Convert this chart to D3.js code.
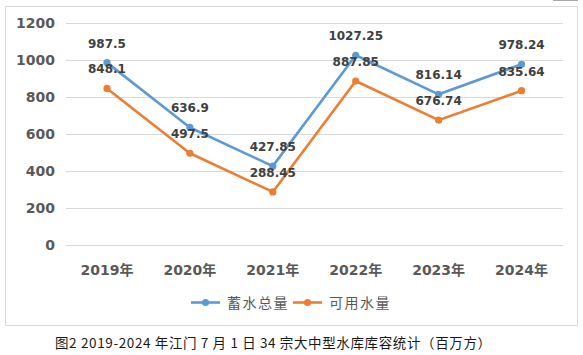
<!DOCTYPE html>
<html><head><meta charset="utf-8">
<script src="https://cdn.jsdelivr.net/npm/d3@7"></script>
<style>
html,body{margin:0;padding:0;background:#fff;}
svg{display:block;}
</style></head>
<body><svg id="c" width="583" height="355"></svg>
<script>
const categories = ["2019年","2020年","2021年","2022年","2023年","2024年"];
const totalStorage = [987.5, 636.9, 427.85, 1027.25, 816.14, 978.24];
const usableWater = [848.1, 497.5, 288.45, 887.85, 676.74, 835.64];
const seriesNames = ["蓄水总量","可用水量"];
const seriesColors = ["#5B9BD5","#ED7D31"];
const yTicks = [0,200,400,600,800,1000,1200];
const caption = "图2 2019-2024 年江门 7 月 1 日 34 宗大中型水库库容统计（百万方）";

const svg = d3.select("#c");
// frame
svg.append("rect").attr("x",5.5).attr("y",6.5).attr("width",572).attr("height",319)
  .attr("fill","#fff").attr("stroke","#d9d9d9").attr("stroke-width",1);
svg.append("line").attr("x1",553).attr("x2",578).attr("y1",0.5).attr("y2",0.5)
  .attr("stroke","#a6a6a6").attr("stroke-width",1);

const x = d3.scaleBand().domain(categories).range([65.5,563]);
const y = d3.scaleLinear().domain([0,1200]).range([245.3,23.3]);

// gridlines
svg.append("g").selectAll("line").data(yTicks).join("line")
  .attr("x1",66).attr("x2",563)
  .attr("y1",d=>Math.round(y(d))+0.5).attr("y2",d=>Math.round(y(d))+0.5)
  .attr("stroke","#d9d9d9").attr("stroke-width",1);

// y axis labels
const yAxis = d3.axisLeft(y).tickValues(yTicks).tickFormat(d3.format("d")).tickSize(0).tickPadding(11);
const ya = svg.append("g").attr("transform","translate(66,0)").call(yAxis);
ya.select(".domain").remove();
ya.selectAll("text").attr("font-family","DejaVu Sans").attr("font-weight","bold")
  .attr("font-size",14).attr("fill","#595959");

// x axis labels
const xAxis = d3.axisBottom(x).tickSize(0).tickPadding(14);
const xa = svg.append("g").attr("transform","translate(0,251)").call(xAxis);
xa.select(".domain").remove();
xa.selectAll("text").attr("font-family","DejaVu Sans, Noto Sans CJK SC").attr("font-weight","bold")
  .attr("font-size",14).attr("fill","#595959");

const cx = c => x(c) + x.bandwidth()/2;
const seriesData = [totalStorage, usableWater];

const line = d3.line().x((d,i)=>cx(categories[i])).y(d=>y(d));
seriesData.forEach((vals,si)=>{
  svg.append("path").datum(vals).attr("d",line).attr("fill","none")
    .attr("stroke",seriesColors[si]).attr("stroke-width",2.6).attr("stroke-linejoin","round");
  svg.append("g").selectAll("circle").data(vals).join("circle")
    .attr("cx",(d,i)=>cx(categories[i])).attr("cy",d=>y(d)).attr("r",3.6)
    .attr("fill",seriesColors[si]);
});
seriesData.forEach((vals,si)=>{
  svg.append("g").selectAll("text").data(vals).join("text")
    .attr("x",(d,i)=>cx(categories[i])).attr("y",d=>y(d)-15)
    .attr("text-anchor","middle").attr("font-family","DejaVu Sans").attr("font-weight","bold")
    .attr("font-size",12).attr("fill","#404040").text(d=>d);
});

// legend
const legendX = [191, 293];
seriesNames.forEach((n,i)=>{
  const g = svg.append("g");
  g.append("line").attr("x1",legendX[i]).attr("x2",legendX[i]+29).attr("y1",302.5).attr("y2",302.5)
    .attr("stroke",seriesColors[i]).attr("stroke-width",2.6);
  g.append("circle").attr("cx",legendX[i]+14.5).attr("cy",302.5).attr("r",3.6).attr("fill",seriesColors[i]);
  g.append("text").attr("x",legendX[i]+36).attr("y",307.5)
    .attr("font-family","Noto Sans CJK SC").attr("font-size",14).attr("letter-spacing","1.5px")
    .attr("fill","#595959").text(n);
});

// caption
svg.append("text").attr("x",55).attr("y",348)
  .attr("font-family","Noto Sans CJK SC").attr("font-size",13.5)
  .attr("textLength",436).attr("lengthAdjust","spacing")
  .attr("fill","#1a1a1a").text(caption);
</script></body></html>
